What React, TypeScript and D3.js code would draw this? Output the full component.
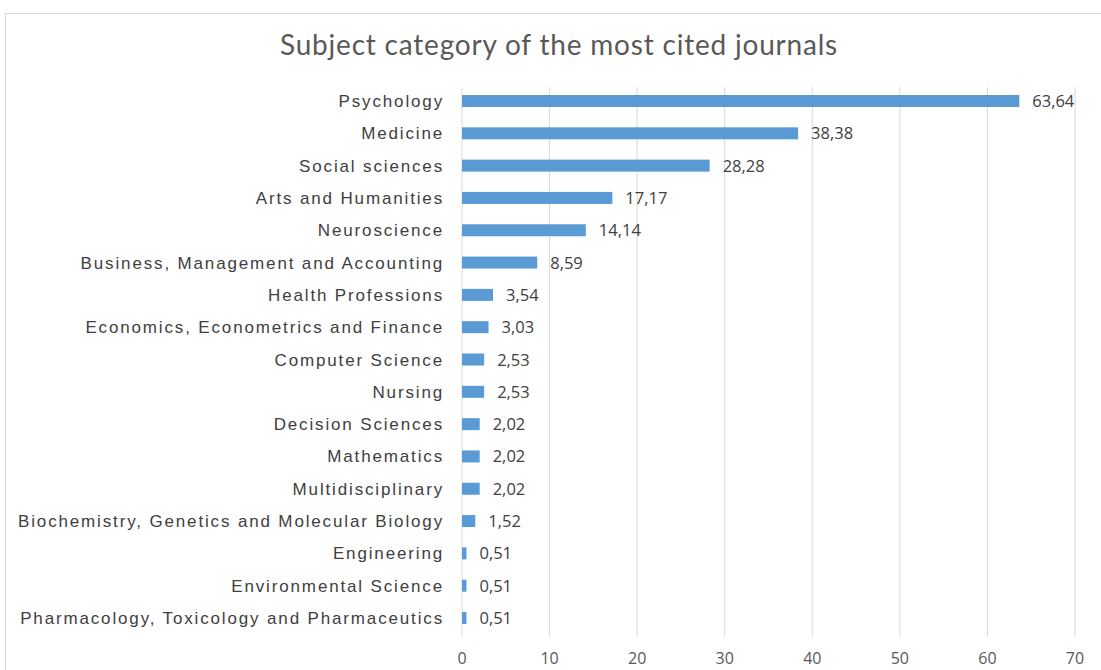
import React from "react";
import * as d3 from "d3";

const categories = [
  "Psychology",
  "Medicine",
  "Social sciences",
  "Arts and Humanities",
  "Neuroscience",
  "Business, Management and Accounting",
  "Health Professions",
  "Economics, Econometrics and Finance",
  "Computer Science",
  "Nursing",
  "Decision Sciences",
  "Mathematics",
  "Multidisciplinary",
  "Biochemistry, Genetics and Molecular Biology",
  "Engineering",
  "Environmental Science",
  "Pharmacology, Toxicology and Pharmaceutics",
];
const values = [63.64, 38.38, 28.28, 17.17, 14.14, 8.59, 3.54, 3.03, 2.53, 2.53, 2.02, 2.02, 2.02, 1.52, 0.51, 0.51, 0.51];
const ticks = [0, 10, 20, 30, 40, 50, 60, 70];
const title = "Subject category of the most cited journals";

const W = 1101;
const H = 670;

export default function App() {
  const x = d3.scaleLinear().domain([0, 70]).range([462, 1075]);
  const step = (618 - 101) / 16;
  const top = 101 - step / 2;
  const y = d3
    .scaleBand<string>()
    .domain(categories)
    .range([top, top + step * categories.length])
    .paddingInner(1 - 12 / step)
    .paddingOuter((1 - 12 / step) / 2);
  const fmt = (v: number) => v.toFixed(2).replace(".", ",");

  return (
    <svg
      width={W}
      height={H}
      style={{ position: "absolute", left: 0, top: 0, background: "#fff" }}
    >
      <rect x={5.5} y={13.5} width={W + 10} height={H + 10} fill="#fff" stroke="#d9d9d9" />
      <text
        x={559}
        y={55}
        textAnchor="middle"
        fontFamily="Lato, 'Open Sans', sans-serif"
        fontSize={28}
        letterSpacing={0.8}
        fill="#595959"
      >
        {title}
      </text>
      {ticks.map((t) => (
        <g key={t}>
          <line x1={x(t)} x2={x(t)} y1={87} y2={637} stroke="#d9d9d9" strokeWidth={1} />
          <text
            x={x(t)}
            y={664}
            textAnchor="middle"
            fontFamily="'Open Sans', Lato, sans-serif"
            fontSize={16}
            fill="#595959"
          >
            {t}
          </text>
        </g>
      ))}
      {categories.map((c, i) => {
        const yy = y(c)!;
        const cy = yy + y.bandwidth() / 2;
        return (
          <g key={c}>
            <rect x={x(0)} y={yy} width={x(values[i]) - x(0)} height={y.bandwidth()} fill="#5b9bd5" />
            <text
              x={444}
              y={cy + 6}
              textAnchor="end"
              fontFamily="'Liberation Sans', Arial, sans-serif"
              fontSize={17}
              letterSpacing={1.85}
              fill="#404040"
            >
              {c}
            </text>
            <text
              x={x(values[i]) + 13}
              y={cy + 6}
              fontFamily="'Open Sans', Lato, sans-serif"
              fontSize={16.5}
              fill="#404040"
            >
              {fmt(values[i])}
            </text>
          </g>
        );
      })}
    </svg>
  );
}
